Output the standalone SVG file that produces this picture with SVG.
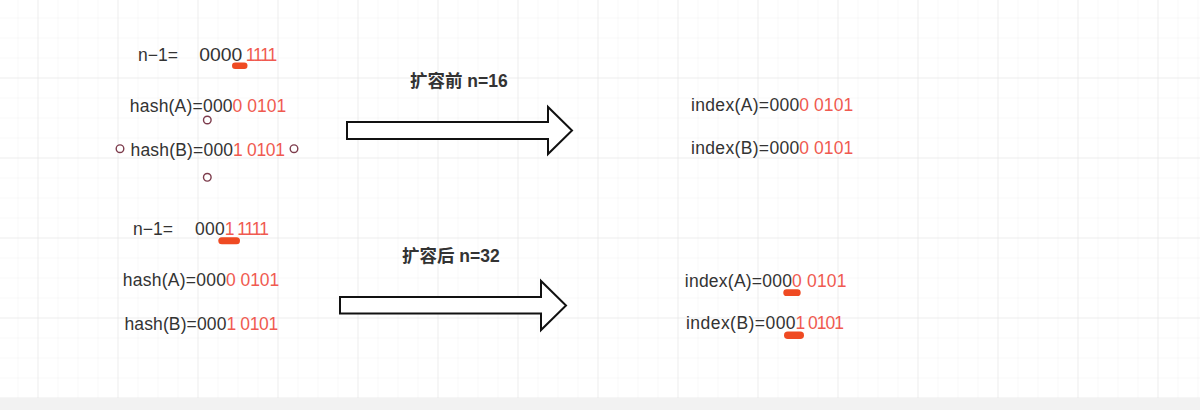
<svg xmlns="http://www.w3.org/2000/svg" width="1200" height="410" viewBox="0 0 1200 410">
<style>
text{font-family:"Liberation Sans","Noto Sans CJK SC",sans-serif;font-size:17.5px;fill:#333333}
text.r{fill:#f05a50}
text.lbl{font-weight:bold;fill:#333333}
.mark{fill:#ef4a22}
.handle{fill:#ffffff;stroke:#7d3c4c;stroke-width:1.4}
.arrow{fill:#ffffff;stroke:#111111;stroke-width:2;stroke-linejoin:miter}
</style>
<defs>
<pattern id="minor" width="20" height="20" patternUnits="userSpaceOnUse" x="17.5" y="17.5">
<path d="M0,0 H20 M0,0 V20" fill="none" stroke="#f2f2f2" stroke-width="1"/>
</pattern>
<pattern id="major" width="80" height="80" patternUnits="userSpaceOnUse" x="37.5" y="77.5">
<path d="M0,0 H80 M0,0 V80" fill="none" stroke="#e5e5e5" stroke-width="1"/>
</pattern>
</defs>
<g id="background">
<rect x="0" y="0" width="1200" height="410" fill="#ffffff"/>
<rect x="0" y="0" width="1200" height="398" fill="url(#minor)"/>
<rect x="0" y="0" width="1200" height="398" fill="url(#major)"/>
<rect x="0" y="398" width="1200" height="12" fill="#f2f2f2"/>
</g>
<g id="before-mask">
<text x="138" y="61">n−1=</text>
<text x="199.3" y="61" textLength="43.1" lengthAdjust="spacingAndGlyphs">0000</text>
<text class="r" x="245.8" y="61" textLength="31.4" lengthAdjust="spacing">1111</text>
<rect class="mark" x="232" y="62.5" width="15.5" height="6.5" rx="3.25"/>
</g>
<g id="before-hashA">
<text x="129.8" y="111.5" textLength="102.8" lengthAdjust="spacing">hash(A)=000</text>
<text class="r" x="232.6" y="111.5" textLength="53.6" lengthAdjust="spacing">0 0101</text>
</g>
<g id="before-hashB">
<text x="130.5" y="156" textLength="102.6" lengthAdjust="spacing">hash(B)=000</text>
<text class="r" x="233.1" y="156" textLength="51.8" lengthAdjust="spacing">1 0101</text>
<circle class="handle" cx="207.3" cy="120" r="3.8"/>
<circle class="handle" cx="120" cy="148.7" r="3.8"/>
<circle class="handle" cx="294" cy="148.7" r="3.8"/>
<circle class="handle" cx="207.3" cy="177.3" r="3.8"/>
</g>
<g id="label-before">
<text class="lbl" x="410" y="87">扩容前 n=16</text>
</g>
<g id="before-indexA">
<text x="691" y="111" textLength="108.3" lengthAdjust="spacing">index(A)=000</text>
<text class="r" x="799.3" y="111" textLength="53.9" lengthAdjust="spacing">0 0101</text>
</g>
<g id="before-indexB">
<text x="691" y="154" textLength="108.3" lengthAdjust="spacing">index(B)=000</text>
<text class="r" x="799.3" y="154" textLength="53.9" lengthAdjust="spacing">0 0101</text>
</g>
<g id="after-mask">
<text x="133" y="235">n−1=</text>
<text x="195" y="235" textLength="29.8" lengthAdjust="spacing">000</text>
<text class="r" x="224.8" y="235" textLength="44.1" lengthAdjust="spacing">1 1111</text>
<rect class="mark" x="218.3" y="237.3" width="21.7" height="7" rx="3.5"/>
</g>
<g id="after-hashA">
<text x="122.8" y="286" textLength="103.2" lengthAdjust="spacing">hash(A)=000</text>
<text class="r" x="226" y="286" textLength="53.2" lengthAdjust="spacing">0 0101</text>
</g>
<g id="after-hashB">
<text x="124.5" y="330" textLength="101.9" lengthAdjust="spacing">hash(B)=000</text>
<text class="r" x="226.4" y="330" textLength="51.8" lengthAdjust="spacing">1 0101</text>
</g>
<g id="label-after">
<text class="lbl" x="402" y="262">扩容后 n=32</text>
</g>
<g id="after-indexA">
<text x="684.8" y="286.7" textLength="107.2" lengthAdjust="spacing">index(A)=000</text>
<text class="r" x="792" y="286.7" textLength="54.5" lengthAdjust="spacing">0 0101</text>
<rect class="mark" x="783.3" y="289.3" width="17.4" height="6.7" rx="3.35"/>
</g>
<g id="after-indexB">
<text x="686" y="329" textLength="109.6" lengthAdjust="spacing">index(B)=000</text>
<text class="r" x="795.6" y="329" textLength="48.3" lengthAdjust="spacing">1 0101</text>
<rect class="mark" x="784" y="331.5" width="20" height="7.5" rx="3.75"/>
</g>
<g id="connectors">
<path class="arrow" d="M347,122 H548 V107 L572,130.5 L548,154 V139 H347 Z"/>
<path class="arrow" d="M340,297 H541 V281 L566,305.5 L541,330 V313.5 H340 Z"/>
</g>
</svg>
